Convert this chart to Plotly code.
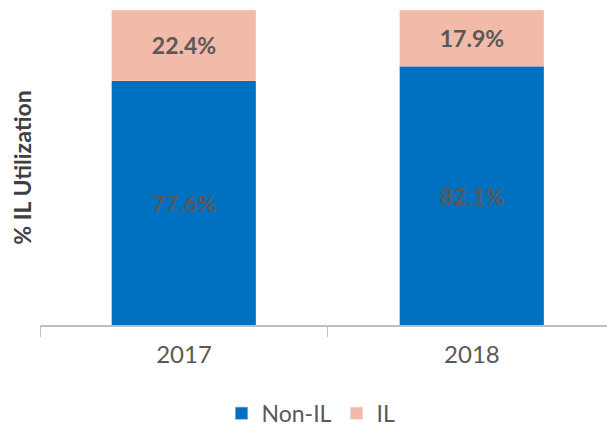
import plotly.graph_objects as go

years = ["2017", "2018"]
non_il = [77.6, 82.1]
il = [22.4, 17.9]
series_names = ["Non-IL", "IL"]

FONT = "Lato"
LABEL_COLOR = "#595959"

fig = go.Figure()
fig.add_trace(go.Bar(
    x=years, y=non_il, name=series_names[0],
    marker=dict(color="#0070C0", line=dict(color="#5B9BD5", width=0.5)),
    text=[f"<b>{v:.1f}%</b>" for v in non_il], textposition="inside",
    insidetextanchor="middle",
    textfont=dict(family=FONT, size=23, color=LABEL_COLOR),
    width=0.5,
))
fig.add_trace(go.Bar(
    x=years, y=il, name=series_names[1],
    marker=dict(color="#F2BAA8", line=dict(color="#F6CFC2", width=0.5)),
    text=[f"<b>{v:.1f}%</b>" for v in il], textposition="inside",
    insidetextanchor="middle",
    textfont=dict(family=FONT, size=23, color=LABEL_COLOR),
    width=0.5,
))

fig.update_layout(
    barmode="stack",
    width=607, height=427,
    margin=dict(l=40, r=0, t=10, b=102, autoexpand=False),
    paper_bgcolor="white", plot_bgcolor="white",
    font=dict(family=FONT, color=LABEL_COLOR),
    xaxis=dict(
        type="category", range=[-0.5, 1.469], automargin=False,
        showline=True, linecolor="#BFBFBF", linewidth=1.5,
        ticks="outside", tickson="boundaries", ticklen=10, tickcolor="#BFBFBF",
        tickfont=dict(family=FONT, size=24, color=LABEL_COLOR),
        ticklabelstandoff=7,
        showgrid=False, zeroline=False,
    ),
    yaxis=dict(
        range=[0, 100], showticklabels=False, showgrid=False, zeroline=False,
        showline=False, ticks="", automargin=False,
        title=dict(text="<b>% IL Utilization</b>", standoff=0,
                   font=dict(family=FONT, size=23, color="#404040")),
    ),
    legend=dict(orientation="h", x=0.478, xanchor="center", y=-0.28, yanchor="middle",
                font=dict(family=FONT, size=23, color=LABEL_COLOR),
                itemwidth=30, traceorder="normal"),
    bargap=0.5,
)

fig.write_html("out.html", config={"displayModeBar": False},
               post_script="document.body.style.margin='0';")
